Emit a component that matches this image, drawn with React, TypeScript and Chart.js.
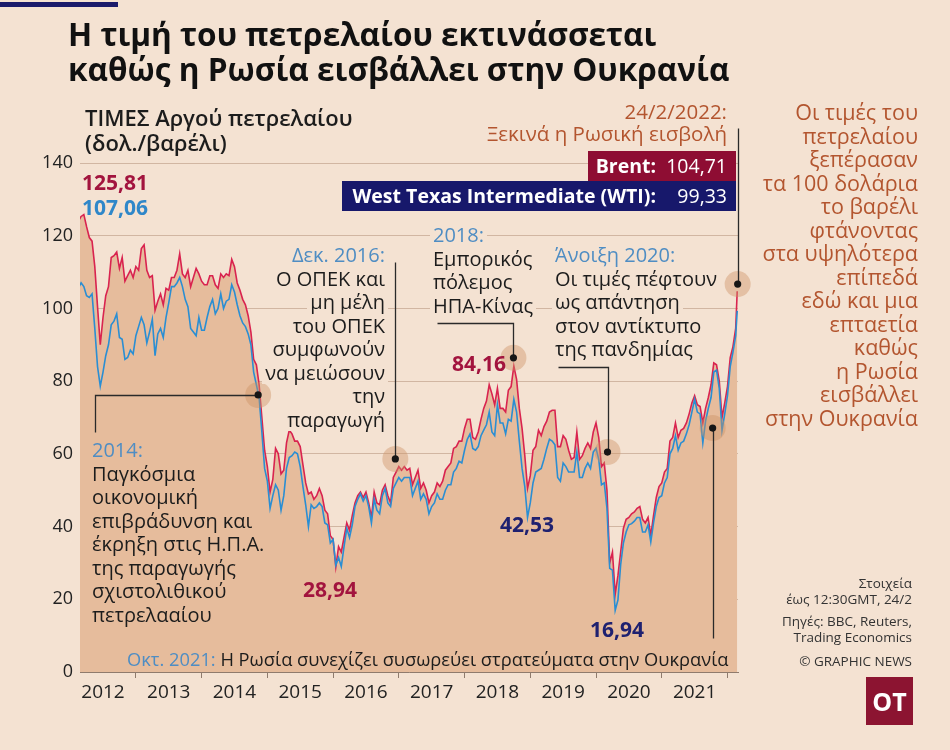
import React, { useEffect, useRef } from "react";
import { Chart, registerables } from "chart.js";

Chart.register(...registerables);

const BG = "#f4e2d2";
const FILL = "#e6bc9c";
const BRENT_C = "#d9234f";
const WTI_C = "#2a8ed3";
const FONT = "'Open Sans', 'Noto Sans', sans-serif";
const RUST = "#b3552f";
const NOTE_BLUE = "#4f8dc3";
const CRIMSON = "#a2143e";
const NAVY = "#1f2170";

// x-axis tick labels (years) and range
const yearLabels = ["2012", "2013", "2014", "2015", "2016", "2017", "2018", "2019", "2020", "2021"];
const X_MIN = 2012.15;
const X_MAX = 2022.16;

// Semi-monthly readings (1st & 16th of each month). 2012 starts on Feb 16.
const brent2012 = [124, 125.3, 125.81, 122.5, 119.5, 118.5, 111.5, 100.5, 90, 97.5, 103.5, 106, 114, 114.5, 115.5, 111, 114, 107.5, 109, 110.5, 108.5];
const brent2013 = [111.5, 110.5, 116.5, 117.5, 110.5, 108.5, 109, 99.5, 102, 104, 101, 105.5, 105, 108.5, 108.5, 110.5, 115, 109.5, 108.5, 110.5, 106, 108.5, 111, 109.5];
const brent2014 = [107.5, 106.5, 106.5, 109, 109, 106.5, 105.5, 109.5, 108.5, 109.5, 109, 113.5, 111.5, 107, 105, 102.5, 101, 98, 93.5, 86, 84.5, 79, 70, 61];
const brent2015 = [56.5, 49.5, 53, 61.5, 60, 54.5, 55.5, 63, 66.5, 65.5, 63.5, 63.5, 62, 57, 52, 49, 49.5, 47.5, 48.5, 50.5, 48.5, 44.5, 43.5, 37.5];
const brent2016 = [36.5, 28.94, 34.5, 33, 37, 41, 39, 43, 46.5, 48.5, 49.5, 48, 49.5, 46.5, 42.5, 49.5, 46.5, 46, 50, 51.5, 48.5, 46.5, 53.5, 55];
const brent2017 = [56.5, 55.5, 56.5, 55.5, 56, 51.5, 53.5, 55.5, 50.5, 52, 50, 46.5, 48.5, 49.5, 52, 51, 52.5, 55.5, 56.5, 57.5, 61.5, 62, 63.5, 63.5];
const brent2018 = [67, 69.5, 69.5, 64.5, 64, 66, 69.5, 72.5, 74.5, 79, 76.5, 73.5, 78, 72.5, 72.5, 71.5, 77.5, 78.5, 84.16, 80.5, 72.5, 67, 59.5, 50.5];
const brent2019 = [54, 61, 62, 66.5, 65, 67.5, 69, 71.5, 72, 72, 62, 62, 65, 64, 61, 58.5, 59, 66, 58.5, 59.5, 61.5, 63, 61.5, 66];
const brent2020 = [68.5, 64.5, 56.5, 57.5, 50, 30, 33, 21.4, 26.5, 33, 39.5, 42, 42.5, 43.5, 44, 45, 45.5, 42, 41, 42.5, 37.5, 43, 48, 51];
const brent2021 = [52, 55, 56, 63.5, 64.5, 68.5, 64.5, 66.5, 67, 68.5, 71, 74, 76, 73.5, 73, 68.5, 72.5, 75.5, 79, 85, 84.5, 80, 70, 74];
const brent2022 = [78.5, 86.5, 89.5, 94.5];
const brentLast = 104.71;

const wti2012 = [105.5, 107.06, 106, 103.5, 103, 104, 94.5, 84, 78.6, 82.5, 87, 90, 95.5, 96.5, 98.5, 92, 91.5, 86, 86.5, 88.5, 87.5];
const wti2013 = [92.5, 95, 97.5, 95.5, 90.5, 93.5, 97, 87, 93, 94.5, 92, 97.5, 101.5, 106, 106, 107, 108.5, 106, 102.5, 100.5, 94.5, 93.5, 92.5, 97.5];
const wti2014 = [94, 94, 97.5, 100.5, 102.5, 98.5, 100, 104, 100, 102, 102.5, 106.5, 104.5, 101, 98, 96, 95, 93, 90, 82.5, 79, 75.5, 66, 56];
const wti2015 = [52.5, 45, 48.5, 51.5, 50, 44.5, 48.5, 56, 59, 59.5, 60.5, 60, 56.5, 51, 46, 40, 46, 45, 45.5, 46.5, 45.5, 41, 40.5, 35.5];
const wti2016 = [36.5, 29.4, 31.5, 29, 34.5, 39.5, 37, 40.5, 45.5, 47.5, 49, 47, 48.5, 45.5, 41, 47.5, 44.5, 43.5, 48.5, 50.5, 46.5, 45.5, 50.5, 52];
const wti2017 = [53.5, 52.5, 53.5, 53.5, 53.5, 48.5, 50.5, 52.5, 47.5, 49, 47.5, 43.5, 45.5, 46.5, 49, 47.5, 47.5, 50, 51.5, 51.5, 55, 56, 58, 57.5];
const wti2018 = [61, 64, 65.5, 61.5, 61, 62, 65, 66.5, 68, 71.5, 66, 65, 73.5, 68.5, 68.5, 65.5, 69.5, 69, 75, 71.5, 63.5, 56, 51, 42.53];
const wti2019 = [46.5, 52, 55, 55.5, 56, 58.5, 61.5, 64, 63.5, 62.5, 53.5, 52.5, 57.5, 56.5, 55, 55, 55, 60.5, 53.5, 53.5, 56, 57.5, 56, 60.5];
const wti2020 = [61.5, 58.5, 51.5, 52, 45, 28.5, 28, 16.94, 19.8, 29.5, 35.5, 38.5, 40.5, 40.8, 41.5, 42.5, 42.5, 38.5, 38.5, 40.5, 35.8, 41, 45.5, 48];
const wti2021 = [48.5, 52, 53.5, 60, 61.5, 65, 61, 63, 63.5, 65.5, 68, 71.5, 75, 71.5, 71, 63, 69, 72.5, 75.5, 82.5, 83, 78, 66.5, 71];
const wti2022 = [76, 84, 88, 92.5];
const wtiLast = 99.33;
const lastDate = "2022-02-24";

const brentYears: [number, number[]][] = [
  [2012, brent2012], [2013, brent2013], [2014, brent2014], [2015, brent2015], [2016, brent2016], [2017, brent2017],
  [2018, brent2018], [2019, brent2019], [2020, brent2020], [2021, brent2021], [2022, brent2022],
];
const wtiYears: [number, number[]][] = [
  [2012, wti2012], [2013, wti2013], [2014, wti2014], [2015, wti2015], [2016, wti2016], [2017, wti2017],
  [2018, wti2018], [2019, wti2019], [2020, wti2020], [2021, wti2021], [2022, wti2022],
];

// annotation anchors (decimal year, value)
const markers = [
  { t: 2014.86, v: 76.2 },
  { t: 2016.947, v: 58.6 },
  { t: 2018.744, v: 86.4 },
  { t: 2020.175, v: 60.5 },
  { t: 2021.774, v: 67.1 },
  { t: 2022.155, v: 106.7 },
];
const leaders: number[][][] = [
  [[2014.86, 76.2], [2012.378, 76.2], [2012.378, 66]],
  [[2016.947, 58.6], [2016.947, 112.8]],
  [[2018.744, 86.4], [2018.744, 96], [2017.586, 96]],
  [[2020.175, 60.5], [2020.175, 83.9], [2019.429, 83.9]],
  [[2021.774, 67.1], [2021.774, 9.3]],
  [[2022.155, 106.7], [2022.155, 149.6]],
];

function decimalYear(d: string) {
  const [y, m, day] = d.split("-").map(Number);
  const start = Date.UTC(y, 0, 1);
  const end = Date.UTC(y + 1, 0, 1);
  return y + (Date.UTC(y, m - 1, day) - start) / (end - start);
}

function buildPoints(years: [number, number[]][], last: number) {
  const pts: { x: number; y: number }[] = [];
  years.forEach(([yr, arr]) => {
    const off = yr === 2012 ? 3 : 0;
    arr.forEach((v, i) => pts.push({ x: yr + (off + i) / 24, y: v }));
  });
  pts.push({ x: decimalYear(lastDate), y: last });
  return pts;
}

const annotPlugin = {
  id: "annot",
  afterDraw(chart: any) {
    const { ctx } = chart;
    const xs = chart.scales.x;
    const ys = chart.scales.y;
    const px = (t: number) => xs.getPixelForValue(t);
    const py = (v: number) => ys.getPixelForValue(v);
    ctx.save();
    markers.forEach((m) => {
      ctx.beginPath();
      ctx.arc(px(m.t), py(m.v), 13, 0, Math.PI * 2);
      ctx.fillStyle = "rgba(205,145,100,0.42)";
      ctx.fill();
    });
    ctx.strokeStyle = "#2a2a2a";
    ctx.lineWidth = 1.3;
    leaders.forEach((pts) => {
      ctx.beginPath();
      pts.forEach(([t, v], i) => {
        const X = Math.round(px(t)) + 0.5;
        const Y = Math.round(py(v)) + 0.5;
        if (i === 0) ctx.moveTo(X, Y);
        else ctx.lineTo(X, Y);
      });
      ctx.stroke();
    });
    markers.forEach((m) => {
      ctx.beginPath();
      ctx.arc(px(m.t), py(m.v), 3.6, 0, Math.PI * 2);
      ctx.fillStyle = "#161616";
      ctx.fill();
    });
    ctx.restore();
  },
};

type TP = {
  x: number; y: number; children: any; align?: "left" | "right"; color?: string; size?: number;
  weight?: number; lh?: number; bg?: boolean;
};
function T({ x, y, children, align = "left", color = "#1c1c1c", size = 20, weight = 400, lh = 23.5, bg = false }: TP) {
  const style: any = {
    position: "absolute",
    top: y - lh / 2,
    whiteSpace: "nowrap",
    fontFamily: FONT,
    fontSize: size,
    fontWeight: weight,
    lineHeight: lh + "px",
    color,
  };
  const pad = bg ? 3 : 0;
  if (align === "right") style.right = 950 - x - pad;
  else style.left = x - pad;
  if (bg) {
    style.background = BG;
    style.padding = "0 3px";
  }
  return <div style={style}>{children}</div>;
}

function Block({ x, y, lines, head, align = "left", bg = false }: any) {
  return (
    <>
      <T x={x} y={y} align={align} color={NOTE_BLUE} bg={bg}>{head}</T>
      {lines.map((l: string, i: number) => (
        <T key={i} x={x} y={y + (i + 1) * 23.5} align={align} bg={bg}>{l}</T>
      ))}
    </>
  );
}

const sideLines = [
  "Οι τιμές του", "πετρελαίου", "ξεπέρασαν", "τα 100 δολάρια", "το βαρέλι", "φτάνοντας", "στα υψηλότερα",
  "επίπεδά", "εδώ  και μια", "επταετία", "καθώς", "η Ρωσία", "εισβάλλει", "στην Ουκρανία",
];

export default function App() {
  const ref = useRef<HTMLCanvasElement>(null);
  useEffect(() => {
    Chart.defaults.font.family = FONT;
    const brentPts = buildPoints(brentYears, brentLast);
    const wtiPts = buildPoints(wtiYears, wtiLast);
    const tickVals: number[] = [];
    yearLabels.forEach((l) => {
      tickVals.push(Number(l) + 0.5);
      tickVals.push(Number(l) + 1);
    });
    const AXIS = "#8f7b6d";
    const chart = new Chart(ref.current as HTMLCanvasElement, {
      type: "line",
      data: {
        datasets: [
          { label: "WTI", data: wtiPts, borderColor: WTI_C, borderWidth: 1.6, pointRadius: 0, fill: false, tension: 0 },
          { label: "Brent", data: brentPts, borderColor: BRENT_C, borderWidth: 1.6, pointRadius: 0, fill: "origin", backgroundColor: FILL, tension: 0 },
        ],
      } as any,
      options: {
        animation: false,
        responsive: false,
        events: [],
        layout: { padding: { left: 0, top: 163, right: 212, bottom: 0 } },
        plugins: { legend: { display: false }, tooltip: { enabled: false } },
        scales: {
          x: {
            type: "linear",
            min: X_MIN,
            max: X_MAX,
            afterBuildTicks: (s: any) => {
              s.ticks = tickVals.map((v) => ({ value: v }));
            },
            afterFit: (s: any) => {
              s.height = 78;
            },
            ticks: {
              autoSkip: false,
              maxRotation: 0,
              minRotation: 0,
              padding: 3,
              color: "#222",
              font: { family: FONT, size: 19 },
              callback: (v: any) => {
                const n = Number(v);
                if (Number.isInteger(n)) return "";
                return yearLabels[Math.floor(n) - Number(yearLabels[0])] || "";
              },
            },
            grid: {
              drawOnChartArea: false,
              drawTicks: true,
              tickLength: 6,
              color: (c: any) => (c.tick && Number.isInteger(c.tick.value) ? AXIS : "rgba(0,0,0,0)"),
              tickColor: (c: any) => (c.tick && Number.isInteger(c.tick.value) ? AXIS : "rgba(0,0,0,0)"),
            },
            border: { display: true, color: AXIS, width: 1 },
          },
          y: {
            min: 0,
            max: 140,
            z: 1,
            afterFit: (s: any) => {
              s.width = 80;
            },
            ticks: { stepSize: 20, padding: 7, color: "#222", font: { family: FONT, size: 18 } },
            grid: { drawTicks: false, color: "rgba(120,70,40,0.28)", lineWidth: 1 },
            border: { display: false },
          },
        },
      } as any,
      plugins: [annotPlugin],
    });
    return () => chart.destroy();
  }, []);

  return (
    <div style={{ position: "fixed", left: 0, top: 0, width: 950, height: 750, background: BG, overflow: "hidden" }}>
      <canvas ref={ref} width={950} height={750} style={{ position: "absolute", left: 0, top: 0, width: 950, height: 750 }} />
      <div style={{ position: "absolute", left: 0, top: 2, width: 118, height: 5, background: "#1b1b6b" }} />
      <T x={68} y={33} size={31.6} weight={700} lh={35} color="#111">Η τιμή του πετρελαίου εκτινάσσεται</T>
      <T x={68} y={68} size={31.6} weight={700} lh={35} color="#111">καθώς η Ρωσία εισβάλλει στην Ουκρανία</T>
      <T x={85} y={117} size={22} weight={600} lh={25}>ΤΙΜΕΣ Αργού πετρελαίου</T>
      <T x={85} y={142} size={22} weight={600} lh={25}>(δολ./βαρέλι)</T>

      <T x={82} y={183} size={21} weight={700} color={CRIMSON}>125,81</T>
      <T x={82} y={208} size={21} weight={700} color="#2f87c9">107,06</T>

      <T x={727} y={111} align="right" color={RUST} size={20.5} weight={500} lh={22}>24/2/2022:</T>
      <T x={727} y={133} align="right" color={RUST} size={20.5} weight={500} lh={22}>Ξεκινά η Ρωσική εισβολή</T>

      <div style={{ position: "absolute", left: 588, top: 151, width: 148, height: 30, background: "#8e0d33" }} />
      <div style={{ position: "absolute", left: 342, top: 181, width: 394, height: 30, background: "#17186b" }} />
      <T x={656} y={166} align="right" color="#fff" size={19.5} weight={700} lh={30}>Brent:</T>
      <T x={727} y={166} align="right" color="#fff" size={19.5} weight={400} lh={30}>104,71</T>
      <T x={656} y={196} align="right" color="#fff" size={19.5} weight={700} lh={30}>West Texas Intermediate (WTI):</T>
      <T x={727} y={196} align="right" color="#fff" size={19.5} weight={400} lh={30}>99,33</T>

      <Block x={92} y={450} head="2014:" lines={["Παγκόσμια", "οικονομική", "επιβράδυνση και", "έκρηξη στις Η.Π.Α.", "της παραγωγής", "σχιστολιθικού", "πετρελααίου"]} />
      <Block x={385} y={255} align="right" bg head="Δεκ. 2016:" lines={["Ο ΟΠΕΚ και", "μη μέλη", "του ΟΠΕΚ", "συμφωνούν", "να μειώσουν", "την", "παραγωγή"]} />
      <Block x={433} y={235} bg head="2018:" lines={["Εμπορικός", "πόλεμος", "ΗΠΑ-Κίνας"]} />
      <Block x={555} y={255} bg head="Άνοιξη 2020:" lines={["Οι τιμές πέφτουν", "ως απάντηση", "στον αντίκτυπο", "της πανδημίας"]} />

      <T x={303} y={590} size={21} weight={700} color={CRIMSON}>28,94</T>
      <T x={452} y={364} size={21} weight={700} color={CRIMSON}>84,16</T>
      <T x={500} y={525} size={21} weight={700} color={NAVY}>42,53</T>
      <T x={590} y={630} size={21} weight={700} color={NAVY}>16,94</T>

      <T x={127} y={659} size={18.3}>
        <span style={{ color: NOTE_BLUE }}>Οκτ. 2021:</span> Η Ρωσία συνεχίζει συσωρεύει στρατεύματα στην Ουκρανία
      </T>

      {sideLines.map((l, i) => (
        <T key={i} x={918} y={112 + i * 23.5} align="right" color={RUST} size={21.5} weight={500}>{l}</T>
      ))}

      <T x={912} y={583} align="right" size={13.5} lh={16} color="#333">Στοιχεία</T>
      <T x={912} y={599} align="right" size={13.5} lh={16} color="#333">έως 12:30GMT, 24/2</T>
      <T x={912} y={621} align="right" size={13.5} lh={16} color="#333">Πηγές: BBC, Reuters,</T>
      <T x={912} y={637} align="right" size={13.5} lh={16} color="#333">Trading Economics</T>
      <T x={912} y={661} align="right" size={13.5} lh={16} color="#333">© GRAPHIC NEWS</T>

      <div style={{
        position: "absolute", left: 866, top: 677, width: 47, height: 48, background: "#8c1431", color: "#fff",
        fontFamily: FONT, fontWeight: 700, fontSize: 25, lineHeight: "48px", textAlign: "center",
      }}>OT</div>
    </div>
  );
}
